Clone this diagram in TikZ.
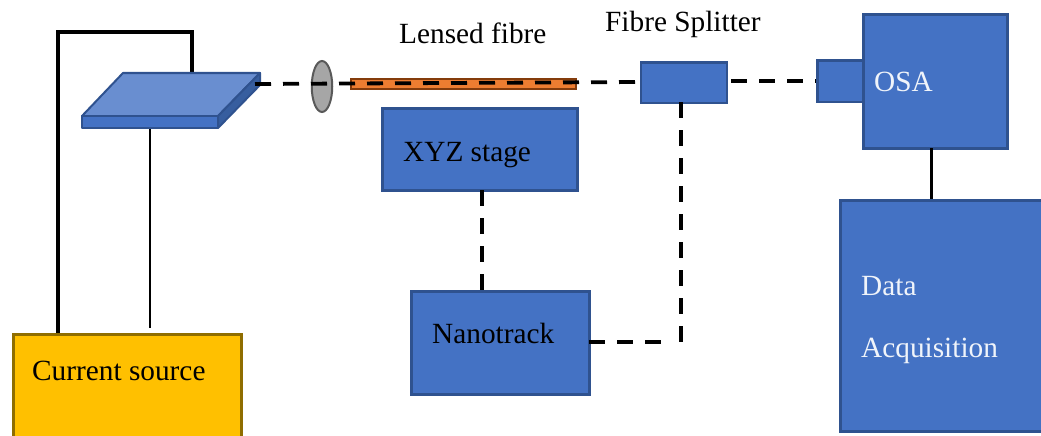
\documentclass[tikz,border=0pt]{standalone}
\usepackage{fontspec}
\setmainfont{Liberation Serif}
\usetikzlibrary{calc,shapes.geometric}
\definecolor{boxblue}{HTML}{4472C4}
\definecolor{boxedge}{HTML}{2F528F}
\definecolor{platetop}{HTML}{698ED0}
\definecolor{plateside}{HTML}{375E9F}
\definecolor{fibreor}{HTML}{ED7D31}
\definecolor{fibreedge}{HTML}{843C0C}
\definecolor{gold}{HTML}{FFC000}
\definecolor{goldedge}{HTML}{8F6D00}
\definecolor{lensgray}{HTML}{A6A6A6}
\definecolor{lensedge}{HTML}{595959}
\tikzset{
  x=1pt,y=-1pt,
  blk/.style={draw=boxedge,fill=boxblue,line width=2.6pt},
  boxnode/.style={blk,rectangle,inner sep=0pt,anchor=north west,minimum width=#1},
  lbl/.style={inner sep=0pt,anchor=base west,font=\fontsize{29.3}{32}\selectfont},
  wlbl/.style={lbl,text=white!92!boxblue},
  dashwire/.style={line width=3.8pt,dash pattern=on 16pt off 12pt},
  thickwire/.style={line width=4pt},
  thinwire/.style={line width=2.6pt},
}
\begin{document}
\begin{tikzpicture}
\clip (0,0) rectangle (1041,436);
\fill[white] (0,0) rectangle (1041,436);
% boxes
\node[boxnode=228pt,minimum height=120pt,draw=goldedge,fill=gold] (cs) at (12,333) {};
\node[boxnode=195pt,minimum height=82pt] (xyz) at (381,107) {};
\node[boxnode=178pt,minimum height=103pt] (nt) at (410,290) {};
\node[boxnode=86pt,minimum height=40.5pt] (split) at (639.5,61) {};
\node[boxnode=47pt,minimum height=41pt] (port) at (816,59.5) {};
\node[boxnode=144pt,minimum height=134pt] (osa) at (862,13) {};
\node[boxnode=230pt,minimum height=231pt] (daq) at (839,199) {};
% plate
\coordinate (ptl) at (123,73);
\coordinate (ptr) at (260,73);
\coordinate (pfl) at (82,116);
\coordinate (pfr) at (218,116);
\coordinate (pbl) at (82,128);
\coordinate (pbr) at (218,128);
\coordinate (prb) at (260,85);
% wires behind plate
\coordinate (topA) at (58,32);
\coordinate (topB) at (192,32);
\coordinate (wireTop) at (192,73);
\coordinate (wireBot) at (150,128);
\coordinate (wireEnd) at (150,328);
\draw[thickwire,line join=miter] (cs.north -| topA) -- (topA) -- (topB) -- (wireTop);
\draw[thinwire] (wireBot) -- (wireEnd);
\draw[draw=boxedge,fill=platetop,line width=2pt,line join=round] (pfl) -- (ptl) -- (ptr) -- (pfr) -- cycle;
\draw[blk,line width=2pt,line join=round] (pfl) -- (pfr) -- (pbr) -- (pbl) -- cycle;
\draw[draw=boxedge,fill=plateside,line width=2pt,line join=round] (pfr) -- (ptr) -- (prb) -- (pbr) -- cycle;
% lens and fibre
\node[ellipse,draw=lensedge,fill=lensgray,line width=2pt,minimum width=20.5pt,minimum height=51pt,inner sep=0pt] (lens) at (322,86.5) {};
\node[rectangle,draw=fibreedge,fill=fibreor,line width=2pt,minimum width=225pt,minimum height=10pt,inner sep=0pt,anchor=north west] (fibre) at (350,78) {};
% connectors
\coordinate (plateOut) at (255,84);
\coordinate (splitIn) at (639,82);
\coordinate (splitOut) at (731,81);
\coordinate (xyzDown) at (482,190);
\coordinate (splitDown) at (681,102);
\coordinate (corner) at (681,342);
\coordinate (ntOut) at (589,342);
\coordinate (ntEnd) at (673,342);
\coordinate (osaDown) at (931.5,148);
\draw[dashwire] (plateOut) -- (splitIn);
\draw[dashwire] (splitOut) -- (port.west |- splitOut);
\draw[dashwire] (xyzDown) -- (nt.north -| xyzDown);
\draw[dashwire] (splitDown) -- (corner);
\draw[dashwire] (ntOut) -- (ntEnd);
\draw[thinwire] (osaDown) -- (daq.north -| osaDown);
% labels
\node[lbl] (lfl) at (399,44) {Lensed fibre};
\node[lbl] (fsl) at (605,32) {Fibre Splitter};
\node[wlbl] (osal) at (874,92) {OSA};
\node[lbl] (xyzl) at (403,161) {XYZ stage};
\node[lbl] (ntl) at (432,343) {Nanotrack};
\node[lbl] (csl) at (32,380) {Current source};
\node[wlbl] (d1) at (861,295) {Data};
\node[wlbl] (d2) at (861,357) {Acquisition};
\end{tikzpicture}
\end{document}
